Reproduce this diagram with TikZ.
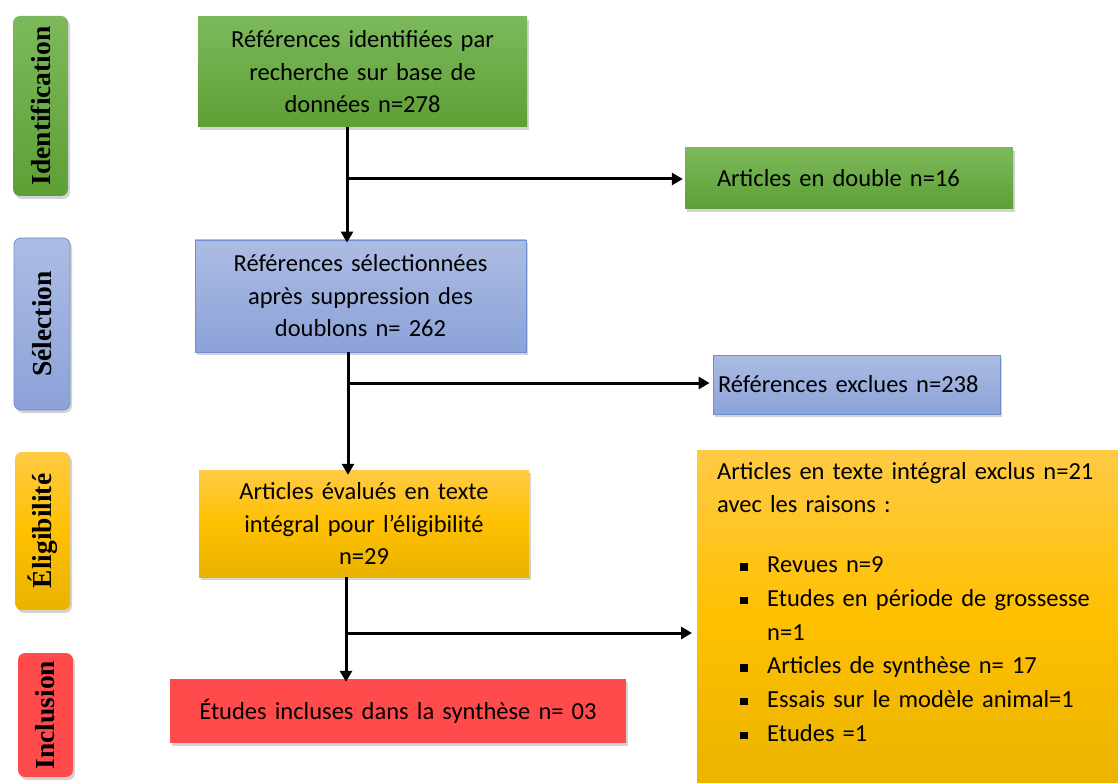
\documentclass[tikz,border=0pt]{standalone}
\usepackage{fontspec}
\setmainfont{Carlito}
\newfontfamily\sidefont{Liberation Serif}
\usetikzlibrary{arrows.meta,shadows}
\definecolor{gtop}{HTML}{7CB95C}
\definecolor{gbot}{HTML}{5E9F35}
\definecolor{btop}{HTML}{ACBCE3}
\definecolor{bbot}{HTML}{8CA2D8}
\definecolor{bline}{HTML}{6F8ED0}
\definecolor{ytop}{HTML}{FFCA45}
\definecolor{ymid}{HTML}{FFC000}
\definecolor{ybot}{HTML}{E9B300}
\definecolor{rfill}{HTML}{FF4B4B}
\newcommand{\sqb}{\makebox[27pt][l]{\rule[2pt]{7.5pt}{7.5pt}}}
\tikzset{
  x=1pt,y=-1pt,
  shad/.style={drop shadow={opacity=0.35,shadow xshift=2pt,shadow yshift=-3pt}},
  box/.style={shad,rectangle,inner sep=0pt,font=\fontsize{24.5}{32.5}\selectfont,align=center},
  greenbox/.style={box,top color=gtop,bottom color=gbot},
  bluebox/.style={box,top color=btop,bottom color=bbot,draw=bline,line width=0.8pt},
  yellowbox/.style={box,top color=ytop,bottom color=ybot,middle color=ymid},
  redbox/.style={box,fill=rfill},
  side/.style={shad,rounded corners=7pt,inner sep=0pt,font=\sidefont\bfseries\fontsize{27.5}{30}\selectfont,rotate=90},
  arr/.style={line width=3pt,-{Triangle[length=11pt,width=12pt]}},
}
\begin{document}
\begin{tikzpicture}
\useasboundingbox (0,0) rectangle (1118,783);
% side labels
\node[side,top color=gtop,bottom color=gbot,minimum width=180,minimum height=55] (sid) at (40.5,106) {Identification};
\node[side,top color=btop,bottom color=bbot,draw=bline,line width=0.8pt,minimum width=172,minimum height=56] (ssel) at (42,324) {Sélection};
\node[side,top color=ytop,bottom color=ybot,middle color=ymid,minimum width=158,minimum height=55] (selig) at (42.5,531) {Éligibilité};
\node[side,fill=rfill,minimum width=124,minimum height=55] (sinc) at (45.5,715) {Inclusion};
% main boxes
\node[greenbox,minimum width=329,minimum height=110,text width=329] (b1) at (362.5,72) {Références identifiées par\\recherche sur base de\\données n=278};
\node[greenbox,minimum width=328,minimum height=61,text width=264,inner xsep=32pt,align=left] (b2) at (849,178.5) {Articles en double n=16};
\node[bluebox,minimum width=331,minimum height=112,text width=331] (b3) at (360.5,296) {Références sélectionnées\\après suppression des\\doublons n= 262};
\node[bluebox,minimum width=287,minimum height=59,text width=277,inner xsep=5pt,align=left] (b4) at (856.5,384.5) {Références exclues n=238};
\node[yellowbox,minimum width=330,minimum height=107,text width=330] (b5) at (364,523.5) {Articles évalués en texte\\intégral pour l’éligibilité\\n=29};
\node[yellowbox,minimum width=430,minimum height=340,anchor=north west] (b6) at (697,450) {};
\node[anchor=north west,inner sep=0pt,font=\fontsize{24.5}{33.7}\selectfont,align=left,text width=410] (t6) at (717,462) {Articles en texte intégral exclus n=21\\avec les raisons :\\[26pt]
\hspace*{23pt}\sqb Revues n=9\\
\hspace*{23pt}\sqb Etudes en période de grossesse\\
\hspace*{50pt}n=1\\
\hspace*{23pt}\sqb Articles de synthèse n= 17\\
\hspace*{23pt}\sqb Essais sur le modèle animal=1\\
\hspace*{23pt}\sqb Etudes =1};
\node[redbox,minimum width=456,minimum height=64,text width=456] (b7) at (398,711) {Études incluses dans la synthèse n= 03};
% connectors
\coordinate (a1) at (347,0);
\coordinate (a2) at (348,0);
\coordinate (a3) at (346,0);
\coordinate (j1) at (347,179);
\coordinate (j2) at (348,383);
\coordinate (j3) at (346,633);
\draw[arr] (b1.south -| a1) -- ([yshift=-3pt]b3.north -| a1);
\draw[arr] (j1) -- ([xshift=-2pt]b2.west |- j1);
\draw[arr] (b3.south -| a2) -- ([yshift=-5pt]b5.north -| a2);
\draw[arr] (j2) -- ([xshift=-3pt]b4.west |- j2);
\draw[arr] (b5.south -| a3) -- ([yshift=-3pt]b7.north -| a3);
\draw[arr] (j3) -- ([xshift=-5pt]b6.west |- j3);
\end{tikzpicture}
\end{document}
